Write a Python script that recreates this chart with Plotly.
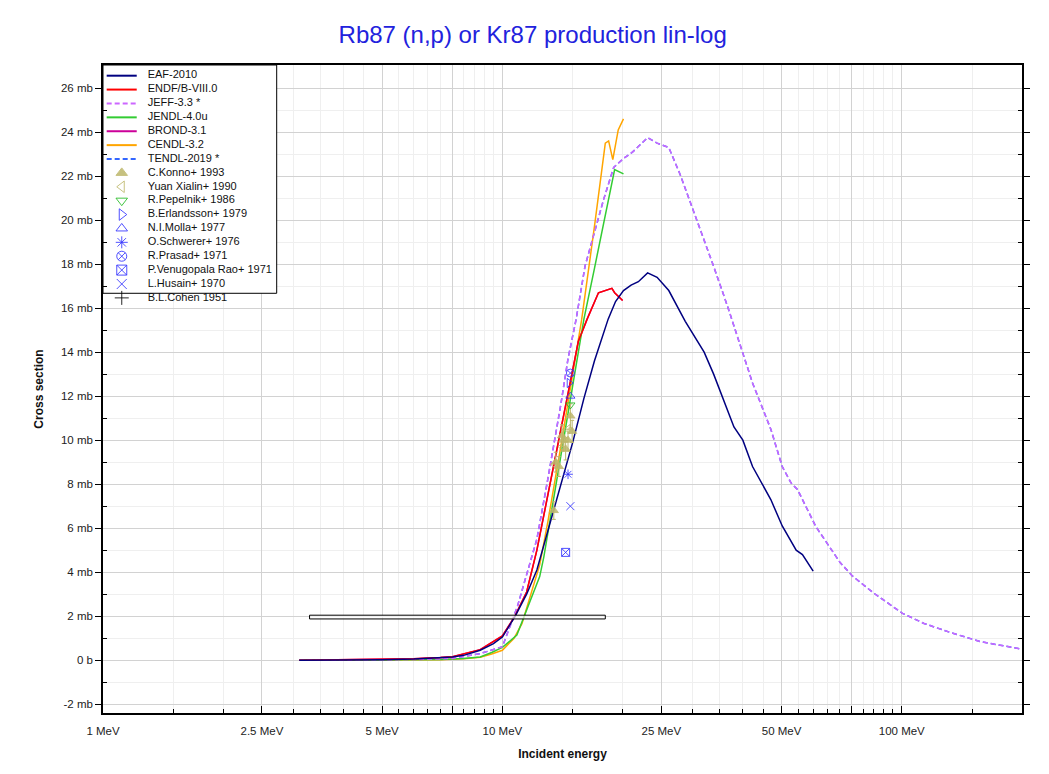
import plotly.graph_objects as go

# ---- evaluated data (incident energy in MeV, cross section in mb) ----
eaf_e = [3.1, 4, 5, 6, 7, 7.5, 8, 8.8, 9.5, 10, 10.75, 11.5, 12.2, 13, 14, 15, 16, 17,
         18.4, 19.2, 20.1, 21, 21.9, 23.1, 24.4, 26.1, 28.7, 32, 33.8, 35.5, 38, 40,
         42.3, 47, 50.2, 54.4, 56.4, 60]
eaf_xs = [0, 0.005, 0.02, 0.05, 0.1, 0.14, 0.22, 0.45, 0.75, 1.05, 1.98, 3.0, 4.1, 5.9,
          7.9, 9.9, 11.9, 13.6, 15.5, 16.3, 16.8, 17.05, 17.2, 17.6, 17.4, 16.8, 15.4,
          14.0, 13.0, 12.0, 10.6, 10.0, 8.8, 7.3, 6.1, 5.0, 4.8, 4.05]

endf_e = [3.1, 5, 6, 7, 7.5, 8.8, 10, 10.75, 11.5, 12.2, 13, 14, 15, 15.5, 16.3, 17.4,
          18.8, 19.1, 20]
endf_xs = [0, 0.02, 0.06, 0.12, 0.16, 0.48, 1.1, 2.0, 3.1, 5.0, 7.5, 10.4, 13.2, 14.5,
           15.5, 16.7, 16.9, 16.7, 16.35]

jeff_e = [3.1, 5, 6, 7, 7.5, 8.8, 10, 10.9, 12.2, 13, 14, 14.6, 15.3, 16.1, 17.9, 19.0,
          20.1, 21.2, 23.1, 24.4, 26.1, 27.9, 30.5, 33.8, 36.6, 39.9, 42.3, 47.0, 50.2,
          52.8, 54.8, 60.9, 70, 75.2, 85.2, 100.4, 113.7, 132.7, 157.8, 200]
jeff_xs = [0, 0.01, 0.03, 0.06, 0.08, 0.3, 0.61, 2.43, 5.5, 8.25, 11.6, 13.7, 15.5, 17.9,
           20.9, 22.4, 22.8, 23.1, 23.75, 23.5, 23.3, 22.05, 20.15, 17.9, 16.1, 14.07,
           12.6, 10.5, 8.8, 8.06, 7.76, 6.08, 4.45, 3.83, 3.04, 2.13, 1.67, 1.25, 0.84, 0.5]

jendl_e = [3.1, 6, 7, 8, 8.8, 9.4, 10, 10.87, 11.38, 12.4, 12.7, 13, 14, 15, 15.4, 16.0,
           17, 18, 19.1, 20.1]
jendl_xs = [0, 0.01, 0.03, 0.08, 0.15, 0.35, 0.58, 1.14, 2.05, 3.8, 4.7, 5.8, 9.25, 12.5,
            13.7, 15.5, 17.8, 20.0, 22.3, 22.1]

cendl_e = [3.1, 6, 7, 8, 8.8, 9.4, 10, 10.7, 11.2, 12.4, 13, 14, 15.2, 15.8, 17, 18.1,
           18.45, 18.9, 19.5, 20.1]
cendl_xs = [0, 0.01, 0.02, 0.06, 0.13, 0.28, 0.45, 1.0, 1.67, 4.33, 6.3, 9.7, 13.7, 15.5,
            19.7, 23.5, 23.6, 22.75, 24.1, 24.6]

# BROND-3.1 and TENDL-2019 lie underneath ENDF/B-VIII.0 and JEFF-3.3 in the picture
brond_e = endf_e
brond_xs = endf_xs
tendl_e = jeff_e
tendl_xs = jeff_xs

# ---- experimental data ----
konno_e = [13.45, 13.6, 13.85, 14.1, 14.2, 14.4, 14.8, 14.95, 14.6]
konno_xs = [6.8, 9.0, 8.8, 10.2, 10.0, 9.6, 11.1, 10.4, 10.0]
konno_err = [0.4, 0.45, 0.45, 0.5, 0.5, 0.5, 0.55, 0.5, 0.5]
yuan_e = [13.5, 14.1, 14.6]
yuan_xs = [8.9, 9.7, 10.5]
pepelnik_e = [14.8]
pepelnik_xs = [11.6]
erlandsson_e = [14.7]
erlandsson_xs = [12.6]
molla_e = [14.8]
molla_xs = [12.0]
schwerer_e = [14.6]
schwerer_xs = [8.45]
prasad_e = [14.8]
prasad_xs = [13.05]
rao_e = [14.4]
rao_xs = [4.9]
husain_e = [14.8]
husain_xs = [7.0]
cohen_e_lo = 3.29
cohen_e_hi = 18.1
cohen_xs = 1.96
cohen_dxs = 0.085

# ---- axes ----
x_tick_vals = [1, 2.5, 5, 7.5, 10, 25, 50, 75, 100]
x_tick_text = ["1 MeV", "2.5 MeV", "5 MeV", "", "10 MeV", "25 MeV", "50 MeV", "", "100 MeV"]
x_minor_vals = [1.5, 2, 3, 3.5, 4, 4.5, 5.5, 6, 6.5, 7, 8, 8.5, 9, 9.5, 15, 20, 30, 35,
                40, 45, 55, 60, 65, 70, 80, 85, 90, 95, 150, 200]
y_tick_vals = [-2, 0, 2, 4, 6, 8, 10, 12, 14, 16, 18, 20, 22, 24, 26]
y_tick_text = ["-2 mb", "0 b", "2 mb", "4 mb", "6 mb", "8 mb", "10 mb", "12 mb", "14 mb",
               "16 mb", "18 mb", "20 mb", "22 mb", "24 mb", "26 mb"]
y_minor_vals = [-1, 1, 3, 5, 7, 9, 11, 13, 15, 17, 19, 21, 23, 25]

FONT = "Liberation Sans, Arial, sans-serif"
BLUE = "#3333ff"
KHAKI = "#bdb76b"
DASH = "5px,3px"

curves = [
    ("EAF-2010", eaf_e, eaf_xs, "#000080", "solid"),
    ("ENDF/B-VIII.0", endf_e, endf_xs, "#ff0000", "solid"),
    ("JEFF-3.3 *", jeff_e, jeff_xs, "#cc66ff", DASH),
    ("JENDL-4.0u", jendl_e, jendl_xs, "#33cc33", "solid"),
    ("BROND-3.1", brond_e, brond_xs, "#cc0099", "solid"),
    ("CENDL-3.2", cendl_e, cendl_xs, "#ffa500", "solid"),
    ("TENDL-2019 *", tendl_e, tendl_xs, "#3366ff", DASH),
]

points = [
    ("C.Konno+ 1993", konno_e, konno_xs, "triangle-up", KHAKI),
    ("Yuan Xialin+ 1990", yuan_e, yuan_xs, "triangle-left-open", KHAKI),
    ("R.Pepelnik+ 1986", pepelnik_e, pepelnik_xs, "triangle-down-open", "#22bb22"),
    ("B.Erlandsson+ 1979", erlandsson_e, erlandsson_xs, "triangle-right-open", BLUE),
    ("N.I.Molla+ 1977", molla_e, molla_xs, "triangle-up-open", BLUE),
    ("O.Schwerer+ 1976", schwerer_e, schwerer_xs, "asterisk-open", BLUE),
    ("R.Prasad+ 1971", prasad_e, prasad_xs, "circle-x-open", BLUE),
    ("P.Venugopala Rao+ 1971", rao_e, rao_xs, "square-x-open", BLUE),
    ("L.Husain+ 1970", husain_e, husain_xs, "x-thin-open", BLUE),
    ("B.L.Cohen 1951", [], [], "cross-thin-open", "black"),
]

fig = go.Figure()

# curves drawn in reverse legend order, EAF ends up on top
for name, e, xs, col, dash in reversed(curves):
    fig.add_trace(go.Scatter(x=e, y=xs, mode="lines", name=name, showlegend=False,
                             line=dict(color=col, width=1.5, dash=dash)))

# Cohen 1951: wide energy bin drawn as a box
fig.add_trace(go.Scatter(
    x=[cohen_e_lo, cohen_e_hi, cohen_e_hi, cohen_e_lo, cohen_e_lo],
    y=[cohen_xs - cohen_dxs, cohen_xs - cohen_dxs, cohen_xs + cohen_dxs,
       cohen_xs + cohen_dxs, cohen_xs - cohen_dxs],
    mode="lines", fill="toself", fillcolor="rgba(255,255,255,0.7)",
    line=dict(color="black", width=1), showlegend=False))

for name, e, xs, sym, col in points:
    if not e:
        continue
    err = None
    if name.startswith("C.Konno"):
        err = dict(type="data", array=konno_err, color=KHAKI, thickness=1, width=2)
    fig.add_trace(go.Scatter(
        x=e, y=xs, mode="markers", name=name, showlegend=False, error_y=err,
        marker=dict(symbol=sym, size=8, color=col, opacity=0.85,
                    line=dict(color=col, width=1))))

# ---- legend box, drawn on an overlay axis in plot-area fractions ----
row0 = 0.9835
row_h = 0.02143
box_right = 0.189
box_bottom = 0.6477
fig.add_trace(go.Scatter(
    x=[0, box_right, box_right, 0, 0], y=[box_bottom, box_bottom, 1, 1, box_bottom],
    mode="lines", fill="toself", fillcolor="white", line=dict(color="black", width=1),
    xaxis="x2", yaxis="y2", showlegend=False, hoverinfo="skip"))

names = []
rows = []
for i, (name, e, xs, col, dash) in enumerate(curves):
    y = row0 - i * row_h
    names.append(name)
    rows.append(y)
    fig.add_trace(go.Scatter(x=[0.004, 0.0367], y=[y, y], mode="lines",
                             line=dict(color=col, width=2, dash=dash),
                             xaxis="x2", yaxis="y2", showlegend=False, hoverinfo="skip"))
for j, (name, e, xs, sym, col) in enumerate(points):
    y = row0 - (len(curves) + j) * row_h
    names.append(name)
    rows.append(y)
    fig.add_trace(go.Scatter(x=[0.0204], y=[y], mode="markers",
                             marker=dict(symbol=sym, size=10, color=col, opacity=0.85,
                                         line=dict(color=col, width=1)),
                             xaxis="x2", yaxis="y2", showlegend=False, hoverinfo="skip"))
fig.add_trace(go.Scatter(x=[0.0486] * len(names), y=rows, mode="text", text=names,
                         textposition="middle right",
                         textfont=dict(family=FONT, size=11, color="#111111"),
                         xaxis="x2", yaxis="y2", showlegend=False, hoverinfo="skip"))

# page body has an 8px margin, so the figure is 8px smaller than the window
fig.update_layout(
    width=1041, height=766,
    margin=dict(l=95, r=27, t=57, b=61),
    paper_bgcolor="white", plot_bgcolor="white",
    font=dict(family=FONT, size=11.5, color="#222222"),
    title=dict(text="Rb87 (n,p) or Kr87 production lin-log", x=0.504, xanchor="center",
               y=1 - 27 / 766, yanchor="middle", yref="container",
               font=dict(family=FONT, size=24, color="#2222dd")),
    showlegend=False,
    xaxis=dict(
        type="log", range=[0, 2.30103],
        tickmode="array", tickvals=x_tick_vals, ticktext=x_tick_text,
        ticks="inside", ticklen=7, tickcolor="black", ticklabelstandoff=6,
        showgrid=True, gridcolor="#d2d2d2", gridwidth=1,
        minor=dict(tickmode="array", tickvals=x_minor_vals, ticks="inside", ticklen=4,
                   tickcolor="black", showgrid=True, gridcolor="#efefef", gridwidth=1),
        showline=True, linecolor="black", linewidth=1.5, mirror=True,
        zeroline=False,
        title=dict(text="<b>Incident energy</b>", standoff=14,
                   font=dict(family=FONT, size=12, color="#111111")),
    ),
    yaxis=dict(
        range=[-2.4, 27.05],
        tickmode="array", tickvals=y_tick_vals, ticktext=y_tick_text,
        ticks="outside", ticklen=6, tickcolor="black",
        showgrid=True, gridcolor="#d2d2d2", gridwidth=1,
        minor=dict(tickmode="array", tickvals=y_minor_vals, ticks="inside", ticklen=4,
                   tickcolor="black", showgrid=True, gridcolor="#efefef", gridwidth=1),
        showline=True, linecolor="black", linewidth=1.5, mirror="ticks",
        zeroline=False,
        title=dict(text="<b>Cross section</b>", standoff=15,
                   font=dict(family=FONT, size=12, color="#111111")),
    ),
    xaxis2=dict(overlaying="x", range=[0, 1], visible=False, fixedrange=True),
    yaxis2=dict(overlaying="y", range=[0, 1], visible=False, fixedrange=True),
)

fig.write_html("out.html")
